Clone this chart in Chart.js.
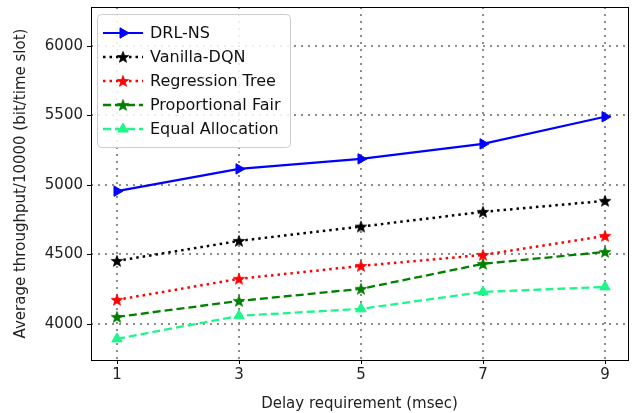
<!DOCTYPE html>
<html>
<head>
<meta charset="utf-8">
<script src="https://cdn.jsdelivr.net/npm/chart.js@4"></script>
<style>
  html, body { margin: 0; padding: 0; background: #fff; }
  #wrap { width: 638px; height: 413px; }
</style>
</head>
<body>
<div id="wrap"><canvas id="chart" width="638" height="413"></canvas></div>
<script>
// data
const delays = [1, 3, 5, 7, 9];
const drlNs = [4955, 5115, 5187, 5295, 5490];
const vanillaDqn = [4453, 4597, 4700, 4806, 4885];
const regressionTree = [4173, 4324, 4417, 4496, 4633];
const proportionalFair = [4050, 4165, 4252, 4432, 4518];
const equalAllocation = [3892, 4058, 4108, 4230, 4266];

const xTicks = [1, 3, 5, 7, 9];
const yTicks = [4000, 4500, 5000, 5500, 6000];

const FONT = 'DejaVu Sans';

function starMarker(color, r) {
    const size = Math.ceil(r * 2 + 2);
    const c = document.createElement('canvas');
    c.width = size; c.height = size;
    const g = c.getContext('2d');
    const cx = size / 2, cy = size / 2 + 0.5, inner = r * 0.42;
    g.beginPath();
    for (let i = 0; i < 10; i++) {
        const rad = i % 2 === 0 ? r : inner;
        const a = -Math.PI / 2 + i * Math.PI / 5;
        const px = cx + rad * Math.cos(a), py = cy + rad * Math.sin(a);
        if (i === 0) g.moveTo(px, py); else g.lineTo(px, py);
    }
    g.closePath();
    g.fillStyle = color;
    g.fill();
    g.lineWidth = 0.8;
    g.strokeStyle = color;
    g.stroke();
    return c;
}

function pts(ys) {
    return delays.map((x, i) => ({x: x, y: ys[i]}));
}

function series(label, ys, color, dash, width, marker, rotation, radius) {
    return {
        label: label,
        data: pts(ys),
        borderColor: color,
        backgroundColor: color,
        borderWidth: width,
        borderDash: dash,
        pointStyle: marker,
        rotation: rotation,
        pointRadius: radius,
        pointBackgroundColor: color,
        pointBorderColor: color,
        pointBorderWidth: 1,
        tension: 0,
        fill: false,
    };
}

const green2 = '#1ef58a';

const datasets = [
    series('DRL-NS', drlNs, '#0000ff', [], 2.2, 'triangle', 90, 6),
    series('Vanilla-DQN', vanillaDqn, '#000000', [2.5, 4], 2.5, starMarker('#000000', 6), 0, 6),
    series('Regression Tree', regressionTree, '#ff0000', [2.5, 4], 2.5, starMarker('#ff0000', 6), 0, 6),
    series('Proportional Fair', proportionalFair, '#008000', [8, 4], 2.3, starMarker('#008000', 6), 0, 6),
    series('Equal Allocation', equalAllocation, green2, [8, 4], 2.3, 'triangle', 0, 6),
];

// frame, outward tick marks
const framePlugin = {
    id: 'frame',
    afterDatasetsDraw(chart) {
        const {ctx, chartArea: a, scales} = chart;
        ctx.save();
        ctx.strokeStyle = '#000';
        ctx.lineWidth = 1;
        ctx.setLineDash([]);
        ctx.strokeRect(Math.round(a.left) + 0.5, Math.round(a.top) + 0.5,
            Math.round(a.right - a.left), Math.round(a.bottom - a.top));
        ctx.beginPath();
        xTicks.forEach(v => {
            const x = Math.round(scales.x.getPixelForValue(v)) + 0.5;
            ctx.moveTo(x, a.bottom); ctx.lineTo(x, a.bottom + 4);
        });
        yTicks.forEach(v => {
            const y = Math.round(scales.y.getPixelForValue(v)) + 0.5;
            ctx.moveTo(a.left, y); ctx.lineTo(a.left - 4, y);
        });
        ctx.stroke();
        ctx.restore();
    }
};

// legend drawn inside the plot, line + marker per entry
const legendPlugin = {
    id: 'innerLegend',
    afterDraw(chart) {
        const {ctx} = chart;
        const bx = 97, by = 14, bw = 193, bh = 133;
        ctx.save();
        ctx.beginPath();
        ctx.roundRect(bx + 0.5, by + 0.5, bw, bh, 4);
        ctx.fillStyle = 'rgba(255,255,255,0.85)';
        ctx.fill();
        ctx.strokeStyle = '#cccccc';
        ctx.lineWidth = 1;
        ctx.stroke();
        chart.data.datasets.forEach((ds, i) => {
            const y = 33 + i * 24;
            ctx.save();
            ctx.strokeStyle = ds.borderColor;
            ctx.lineWidth = ds.borderWidth;
            ctx.setLineDash(ds.borderDash);
            ctx.beginPath();
            ctx.moveTo(103, y); ctx.lineTo(143, y);
            ctx.stroke();
            ctx.setLineDash([]);
            ctx.fillStyle = ds.pointBackgroundColor;
            ctx.strokeStyle = ds.pointBorderColor;
            ctx.lineWidth = 1;
            Chart.helpers.drawPoint(ctx, {
                pointStyle: ds.pointStyle,
                rotation: ds.rotation,
                radius: ds.pointRadius,
                borderWidth: 1
            }, 123, y);
            ctx.restore();
            ctx.fillStyle = '#111';
            ctx.font = '16px "' + FONT + '"';
            ctx.textBaseline = 'middle';
            ctx.textAlign = 'left';
            ctx.fillText(ds.label, 150, y + 1);
        });
        ctx.restore();
    }
};

const gridOpts = {
    color: '#8c8c8c',
    lineWidth: 2,
    drawTicks: false,
};

new Chart(document.getElementById('chart').getContext('2d'), {
    type: 'line',
    data: { datasets: datasets },
    options: {
        responsive: false,
        animation: false,
        layout: { padding: { left: 0, right: 10, top: 7, bottom: 0 } },
        plugins: {
            legend: { display: false },
            tooltip: { enabled: false },
        },
        scales: {
            x: {
                type: 'linear',
                min: 0.574,
                max: 9.377,
                afterBuildTicks: s => { s.ticks = xTicks.map(v => ({value: v})); },
                afterFit: s => { s.height = 53; s.paddingLeft = 0; s.paddingRight = 0; },
                grid: gridOpts,
                border: { display: false, dash: [2, 5] },
                ticks: {
                    color: '#222',
                    font: { family: FONT, size: 15 },
                    padding: 6,
                    maxRotation: 0,
                    callback: v => String(v),
                },
                title: {
                    display: true,
                    text: 'Delay requirement (msec)',
                    color: '#222',
                    font: { family: FONT, size: 15 },
                    padding: { top: 0, bottom: 0 },
                },
            },
            y: {
                type: 'linear',
                min: 3740,
                max: 6280,
                afterBuildTicks: s => { s.ticks = yTicks.map(v => ({value: v})); },
                afterFit: s => { s.width = 91; s.paddingTop = 0; s.paddingBottom = 0; },
                grid: gridOpts,
                border: { display: false, dash: [2, 5] },
                ticks: {
                    color: '#222',
                    font: { family: FONT, size: 15 },
                    padding: 8,
                    callback: v => String(v),
                },
                title: {
                    display: true,
                    text: 'Average throughput/10000 (bit/time slot)',
                    color: '#222',
                    font: { family: FONT, size: 15 },
                    padding: { top: 12, bottom: 0 },
                },
            },
        },
    },
    plugins: [framePlugin, legendPlugin],
});
</script>
</body>
</html>
